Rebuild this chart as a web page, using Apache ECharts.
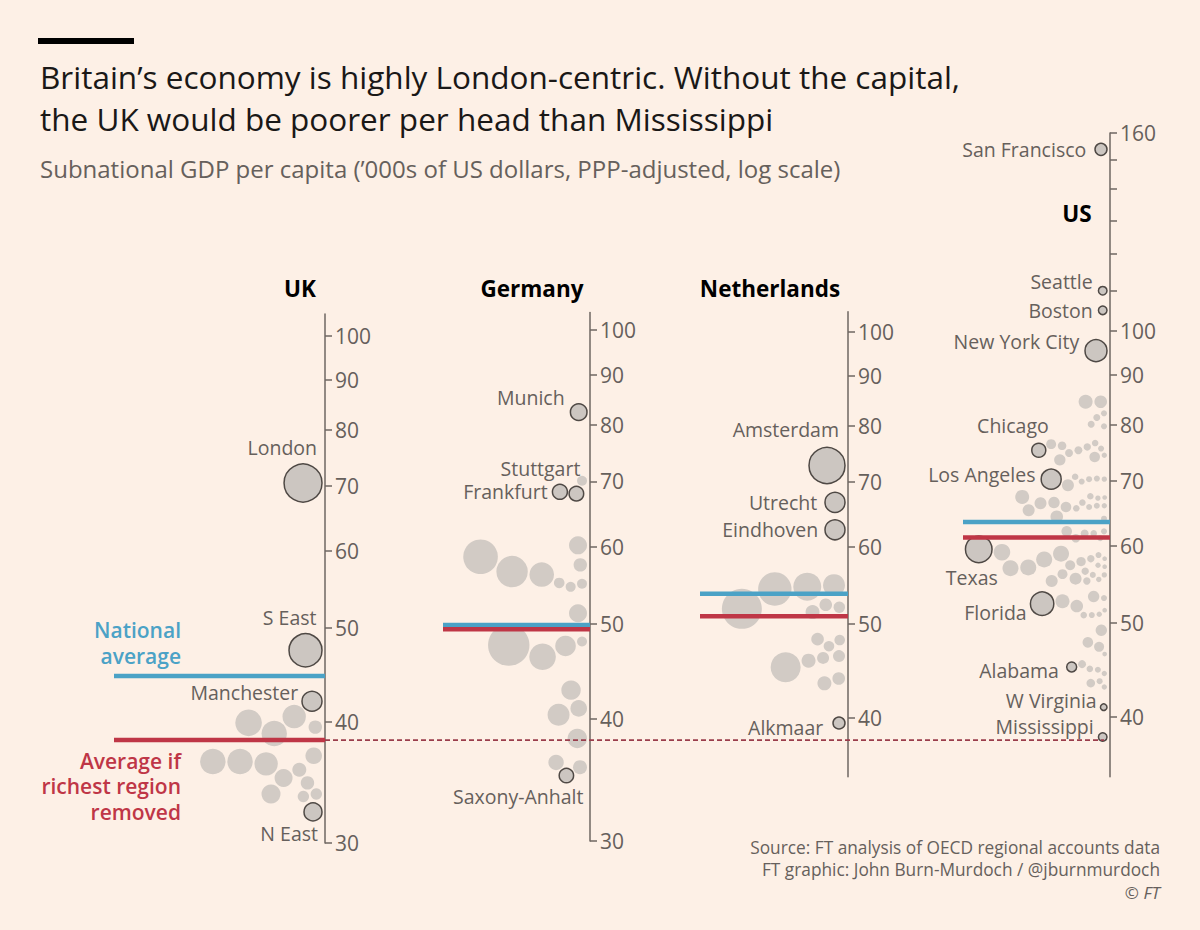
<!DOCTYPE html>
<html>
<head>
<meta charset="utf-8">
<script src="https://cdn.jsdelivr.net/npm/echarts@6/dist/echarts.min.js"></script>
<style>
  html, body { margin: 0; padding: 0; background: #fdf0e6; }
  #chart { width: 1200px; height: 930px; }
</style>
</head>
<body>
<div id="chart"></div>
<script>
// GDP per head ('000s US$, PPP) and bubble size (population, millions)
const ukCities = ['London', 'S East', 'Manchester', 'N East'];
const ukCityGdp = [70.5, 47.4, 42.0, 32.3];
const ukCityPop = [10.0, 7.56, 2.78, 2.25];
const ukOtherGdp = [39.9, 38.9, 40.5, 39.5, 36.4, 36.4, 36.2, 36.9, 35.7, 35.0, 34.6, 33.7, 33.7, 33.5];
const ukOtherPop = [4.91, 4.48, 3.80, 1.25, 4.48, 4.48, 3.80, 1.91, 1.36, 2.25, 1.25, 2.51, 0.90, 0.90];
const ukAverages = [44.6, 38.3]; // national, richest region removed

const deCities = ['Munich', 'Stuttgart', 'Frankfurt', 'Saxony-Anhalt'];
const deCityGdp = [82.4, 68.0, 68.3, 35.0];
const deCityPop = [1.91, 1.48, 1.56, 1.44];
const deOtherGdp = [70.1, 60.2, 58.6, 56.6, 57.5, 56.2, 55.1, 54.6, 55.0, 51.3, 47.6, 46.3, 47.5, 48.0, 42.8, 40.4, 41.0, 38.2, 36.1, 35.7];
const deOtherPop = [0.69, 2.25, 8.31, 6.85, 1.25, 4.20, 0.78, 0.69, 0.69, 2.25, 11.9, 4.91, 2.95, 0.69, 2.61, 3.36, 1.91, 2.61, 1.65, 1.36];
const deAverages = [49.9, 49.4];

const nlCities = ['Amsterdam', 'Utrecht', 'Eindhoven', 'Alkmaar'];
const nlCityGdp = [72.8, 66.7, 62.5, 39.5];
const nlCityPop = [9.0, 2.78, 2.78, 1.0];
const nlOtherGdp = [54.3, 54.6, 54.8, 51.8, 52.3, 52.0, 51.4, 48.2, 48.1, 47.4, 45.1, 45.8, 46.1, 46.3, 43.4, 43.9];
const nlOtherPop = [7.75, 5.44, 3.36, 11.1, 1.10, 0.90, 1.36, 1.10, 0.78, 0.78, 6.25, 1.36, 1.0, 1.0, 1.36, 1.10];
const nlAverages = [53.7, 50.9];

const usCities = ['San Francisco', 'Seattle', 'Boston', 'New York City', 'Chicago', 'Los Angeles', 'Texas', 'Florida', 'Alabama', 'W Virginia', 'Mississippi'];
const usCityGdp = [153.9, 110.0, 105.0, 95.4, 75.3, 70.3, 59.5, 52.3, 45.0, 40.9, 38.1];
const usCityPop = [1.0, 0.51, 0.51, 3.36, 1.36, 2.78, 4.91, 3.80, 0.69, 0.30, 0.51];
const usOtherGdp = [
  84.5, 84.5, 81.4, 82.2, 80.1, 79.7,
  75.3, 76.4, 76.1, 75.9, 76.6, 75.6, 74.8, 74.1, 74.4, 73.6,
  69.3, 69.9, 70.7, 70.4, 70.3, 70.3,
  67.4, 66.4, 66.5, 65.3, 65.8, 66.5, 66.0, 67.5, 65.6, 65.8, 66.0, 67.2, 67.3,
  64.3, 64.0,
  62.1, 61.8, 61.1, 61.8, 62.1, 61.1,
  59.1, 58.1, 57.0, 56.9, 58.9, 55.2, 55.5, 57.3, 56.1, 57.8, 58.2, 56.5, 55.2, 56.0, 57.3, 58.7, 55.4, 56.0, 57.1, 58.2,
  52.6, 52.0, 53.2, 53.0, 50.9, 50.9, 51.0, 51.5,
  49.1, 47.7, 47.2, 46.4,
  45.3, 44.8, 44.7, 44.3, 43.3, 43.5, 42.9
];
const usOtherPop = [
  1.36, 1.10, 0.34, 0.25, 0.34, 0.25,
  0.44, 0.69, 0.51, 0.38, 0.30, 0.25, 0.44, 0.78, 0.20, 0.90,
  1.0, 0.25, 0.30, 0.25, 0.25, 0.20,
  1.36, 1.0, 0.90, 1.0, 0.78, 0.30, 0.25, 0.30, 0.30, 0.25, 0.20, 0.20, 0.15,
  1.10, 0.25,
  0.78, 0.44, 0.51, 0.30, 0.25, 0.25,
  1.91, 1.78, 1.78, 1.78, 1.78, 1.0, 1.0, 0.69, 0.69, 0.61, 0.38, 0.38, 0.38, 0.25, 0.20, 0.25, 0.20, 0.20, 0.15, 0.15,
  1.36, 1.10, 0.90, 0.25, 0.30, 0.25, 0.20, 0.15,
  0.90, 0.78, 0.69, 0.15,
  0.44, 0.30, 0.25, 0.20, 0.51, 0.25, 0.20
];
const usAverages = [63.5, 61.2];

const euTicks = [30, 40, 50, 60, 70, 80, 90, 100];
const nlTicks = [40, 50, 60, 70, 80, 90, 100];
const usTicks = [40, 50, 60, 70, 80, 90, 100, 110, 120, 130, 140, 150, 160];
const usTickLabels = [40, 50, 60, 70, 80, 90, 100, 160];

// layout of the four panels (axis x, vertical extent of the axis in px)
const panels = [
  { cities: ukCities, cityGdp: ukCityGdp, cityPop: ukCityPop, otherGdp: ukOtherGdp, otherPop: ukOtherPop, avg: ukAverages,
    ticks: euTicks, labels: euTicks, axisX: 325, width: 225, top: 314, bottom: 843, min: 30, max: 105.3, lineFrom: 211 },
  { cities: deCities, cityGdp: deCityGdp, cityPop: deCityPop, otherGdp: deOtherGdp, otherPop: deOtherPop, avg: deAverages,
    ticks: euTicks, labels: euTicks, axisX: 590, width: 170, top: 312.5, bottom: 841, min: 30, max: 104.2, lineFrom: 147 },
  { cities: nlCities, cityGdp: nlCityGdp, cityPop: nlCityPop, otherGdp: nlOtherGdp, otherPop: nlOtherPop, avg: nlAverages,
    ticks: nlTicks, labels: nlTicks, axisX: 848, width: 170, top: 311.7, bottom: 776.7, min: 34.77, max: 104.9, lineFrom: 148 },
  { cities: usCities, cityGdp: usCityGdp, cityPop: usCityPop, otherGdp: usOtherGdp, otherPop: usOtherPop, avg: usAverages,
    ticks: usTicks, labels: usTickLabels, axisX: 1110, width: 200, top: 133, bottom: 776.7, min: 34.67, max: 160, lineFrom: 147 }
];

const labelStyle = {
  'London': { position: 'top', align: 'right', offset: [14, 0], distance: 6 },
  'S East': { position: 'top', align: 'right', offset: [11, 0], distance: 6 },
  'Manchester': { position: 'left', offset: [0, -9], distance: 3 },
  'N East': { position: 'bottom', align: 'right', offset: [5, 0], distance: 2 },
  'Munich': { position: 'left', offset: [0, -15], distance: 5 },
  'Stuttgart': { position: 'top', align: 'right', offset: [4, 0], distance: 7 },
  'Frankfurt': { position: 'left', distance: 4 },
  'Saxony-Anhalt': { position: 'bottom', align: 'right', offset: [17, 0], distance: 3 },
  'Amsterdam': { position: 'top', align: 'right', offset: [12, 0], distance: 7 },
  'Utrecht': { position: 'left', distance: 7 },
  'Eindhoven': { position: 'left', distance: 6 },
  'Alkmaar': { position: 'left', offset: [0, 5], distance: 9 },
  'San Francisco': { position: 'left', distance: 8 },
  'Seattle': { position: 'left', offset: [0, -9], distance: 5 },
  'Boston': { position: 'left', distance: 5 },
  'New York City': { position: 'left', offset: [0, -9], distance: 5 },
  'Chicago': { position: 'top', align: 'right', offset: [10, 0], distance: 7 },
  'Los Angeles': { position: 'left', offset: [0, -5], distance: 5 },
  'Texas': { position: 'bottom', offset: [-7, 0], distance: 4 },
  'Florida': { position: 'left', offset: [0, 9], distance: 3 },
  'Alabama': { position: 'left', offset: [0, 4], distance: 7 },
  'W Virginia': { position: 'left', offset: [0, -7], distance: 3 },
  'Mississippi': { position: 'left', offset: [0, -10], distance: 4 }
};

const FONT = '"Open Sans", "Noto Sans", sans-serif';
const GREY = '#66605c';
const BLUE = '#4ba2c6';
const RED = '#bf3646';
const R_SCALE = 6;   // px per sqrt(million people)
const PAD = 3;       // gap between bubbles and axis
const GAP = 1.8;     // gap between bubbles

// one-sided beeswarm: smallest bubbles first, each pushed left until it fits
function swarm(items) {
  const order = items.slice().sort((a, b) => a.r - b.r || a.py - b.py);
  const placed = [];
  order.forEach(d => {
    const xMax = -d.r - PAD;
    const cands = [xMax];
    placed.forEach(p => {
      const dist = d.r + p.r + GAP;
      const dy = d.py - p.py;
      if (Math.abs(dy) < dist) {
        const dx = Math.sqrt(dist * dist - dy * dy);
        cands.push(p.x - dx, p.x + dx);
      }
    });
    let best = -Infinity;
    cands.forEach(c => {
      if (c > xMax + 1e-6 || c <= best) return;
      const ok = placed.every(p => {
        const dist = d.r + p.r + GAP - 1e-6;
        return (c - p.x) ** 2 + (d.py - p.py) ** 2 >= dist * dist;
      });
      if (ok) best = c;
    });
    d.x = best;
    placed.push(d);
  });
}

const axisColor = '#6e6762';

const grids = panels.map(p => ({
  left: p.axisX - p.width, right: 1200 - p.axisX, top: p.top, bottom: 930 - p.bottom
}));
// full-width overlay sharing the UK vertical scale, for the dashed reference line
grids.push({ left: 0, right: 0, top: panels[0].top, bottom: 930 - panels[0].bottom });

const xAxes = panels.map((p, i) => ({
  gridIndex: i, type: 'value', min: -p.width, max: 0, show: false
}));
xAxes.push({ gridIndex: 4, type: 'value', min: 0, max: 1200, show: false });

const yAxes = panels.map((p, i) => ({
  gridIndex: i, type: 'log', min: p.min, max: p.max, position: 'right',
  axisLine: { show: true, lineStyle: { color: axisColor, width: 1.5 } },
  axisTick: { show: true, length: 7, customValues: p.ticks, lineStyle: { color: axisColor, width: 1.5 } },
  axisLabel: { show: true, customValues: p.labels, margin: 10, color: GREY, fontSize: 21, fontFamily: FONT },
  splitLine: { show: false }
}));
yAxes.push({ gridIndex: 4, type: 'log', min: panels[0].min, max: panels[0].max, show: false });

function txt(x, y, text, size, fill, align, weight, style, lineHeight) {
  return {
    type: 'text', x, y, silent: true,
    style: {
      text, fill, fontSize: size, fontFamily: FONT, fontWeight: weight || 'normal', fontStyle: style || 'normal',
      lineHeight: lineHeight || Math.round(size * 1.3),
      align: align || 'left', verticalAlign: 'middle', textAlign: align || 'left', textVerticalAlign: 'middle'
    }
  };
}

const graphic = [
  { type: 'rect', silent: true, shape: { x: 38, y: 38, width: 96, height: 6 }, style: { fill: '#000' } },
  txt(40, 76, 'Britain\u2019s economy is highly London-centric. Without the capital,', 31.5, '#1a1817'),
  txt(40, 118, 'the UK would be poorer per head than Mississippi', 31.5, '#1a1817'),
  txt(40, 168, 'Subnational GDP per capita (\u2019000s of US dollars, PPP-adjusted, log scale)', 24, GREY),
  txt(300, 288, 'UK', 22.5, '#000', 'center', 'bold'),
  txt(532, 288, 'Germany', 22.5, '#000', 'center', 'bold'),
  txt(770, 288, 'Netherlands', 22.5, '#000', 'center', 'bold'),
  txt(1077, 213, 'US', 22.5, '#000', 'center', 'bold'),
  txt(181, 643, 'National\naverage', 21, BLUE, 'right', 600, 'normal', 26),
  txt(181, 786, 'Average if\nrichest region\nremoved', 21, RED, 'right', 600, 'normal', 25.5),
  txt(1160, 847, 'Source: FT analysis of OECD regional accounts data', 17.3, GREY, 'right'),
  txt(1160, 869, 'FT graphic: John Burn-Murdoch / @jburnmurdoch', 17.3, GREY, 'right'),
  txt(1160, 892, '\u00a9 FT', 17, GREY, 'right', 'normal', 'italic')
];

const chart = echarts.init(document.getElementById('chart'), null, { renderer: 'svg' });
chart.setOption({
  backgroundColor: '#fdf0e6',
  animation: false,
  grid: grids,
  xAxis: xAxes,
  yAxis: yAxes,
  graphic: graphic,
  series: []
});

const series = [];
panels.forEach((p, i) => {
  const items = [];
  p.cities.forEach((name, j) => items.push({ name, v: p.cityGdp[j], r: R_SCALE * Math.sqrt(p.cityPop[j]) }));
  p.otherGdp.forEach((v, j) => items.push({ name: '', v, r: R_SCALE * Math.sqrt(p.otherPop[j]) }));
  items.forEach(d => { d.py = chart.convertToPixel({ gridIndex: i }, [0, d.v])[1]; });
  swarm(items);

  series.push({
    type: 'scatter', xAxisIndex: i, yAxisIndex: i, silent: true, clip: false, z: 2,
    itemStyle: { color: '#d2cbc5', opacity: 1 },
    data: items.filter(d => !d.name).map(d => ({ value: [d.x, d.v], symbolSize: d.r * 2 }))
  });
  series.push({
    type: 'scatter', xAxisIndex: i, yAxisIndex: i, silent: true, clip: false, z: 3,
    itemStyle: { color: '#ccc6c1', borderColor: '#4f4945', borderWidth: 1.5, opacity: 1 },
    data: items.filter(d => d.name).map(d => {
      const ls = labelStyle[d.name] || { position: 'left' };
      return {
        value: [d.x, d.v], symbolSize: d.r * 2,
        label: {
          show: true, formatter: d.name, position: ls.position, distance: ls.distance,
          offset: ls.offset || [0, 0], align: ls.align, color: GREY, fontSize: 19.5, fontFamily: FONT
        }
      };
    })
  });
  [BLUE, RED].forEach((c, k) => {
    series.push({
      type: 'line', xAxisIndex: i, yAxisIndex: i, silent: true, z: 5, symbol: 'none',
      lineStyle: { color: c, width: 4.5 },
      data: [[-p.lineFrom, p.avg[k]], [0, p.avg[k]]]
    });
  });
});

// dashed reference: UK average without London, carried across to Mississippi
series.push({
  type: 'line', xAxisIndex: 4, yAxisIndex: 4, silent: true, z: 4, symbol: 'none',
  lineStyle: { color: '#9a3d4b', width: 1.6, type: [5, 3] },
  data: [[panels[0].axisX, ukAverages[1]], [panels[3].axisX - 6, ukAverages[1]]]
});

chart.setOption({ series });
</script>
</body>
</html>
